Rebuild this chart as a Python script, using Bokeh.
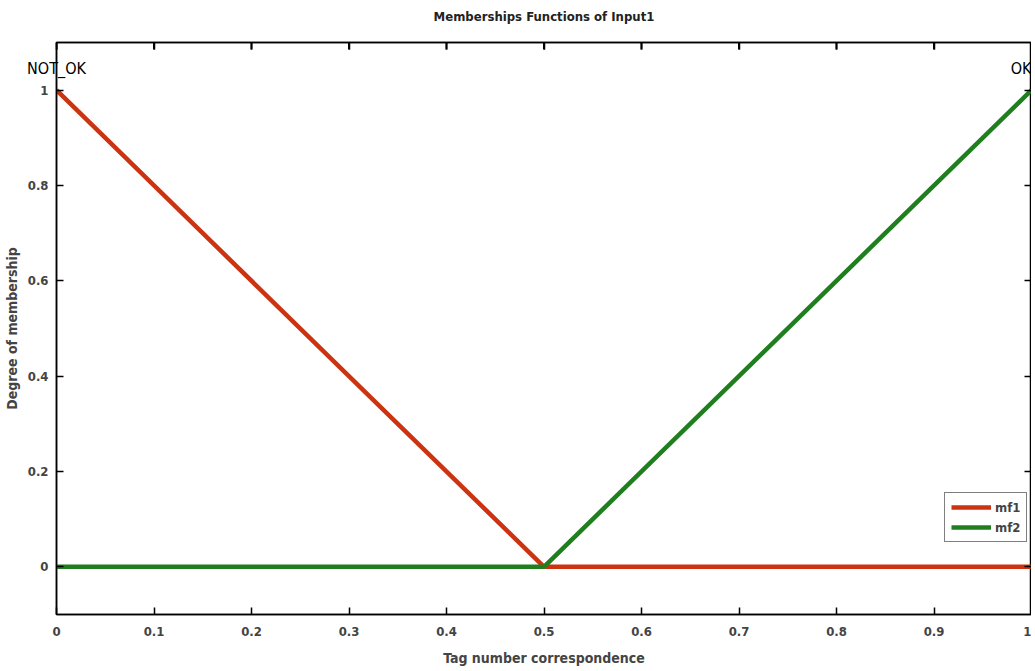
from bokeh.plotting import figure
from bokeh.models import LinearAxis, Range1d, Legend, LegendItem, FixedTicker
from bokeh.embed import file_html
from bokeh.resources import INLINE

# Data
mf1_x = [0.0, 0.5, 1.0]
mf1_y = [1.0, 0.0, 0.0]
mf2_x = [0.0, 0.5, 1.0]
mf2_y = [0.0, 0.0, 1.0]
x_ticks = [0, 0.1, 0.2, 0.3, 0.4, 0.5, 0.6, 0.7, 0.8, 0.9, 1]
y_ticks = [0, 0.2, 0.4, 0.6, 0.8, 1]
mf_labels = ["mf1", "mf2"]
top_names = ["NOT_OK", "OK"]
top_x = [0, 1]
title_text = "Memberships Functions of Input1"

FONT = "DejaVu Sans Condensed, Liberation Sans Narrow, sans-serif"
RED = "#cc3311"
GREEN = "#1f7f1f"
Y_MIN, Y_MAX = -0.1, 1.1
FRAME_H = 572
TICK_PX = 7

p = figure(width=1031, height=670, output_backend="svg", toolbar_location=None,
           x_range=Range1d(0, 1), y_range=Range1d(Y_MIN, Y_MAX),
           min_border_left=48, min_border_right=0, min_border_top=42, min_border_bottom=56)

p.grid.visible = False
p.outline_line_color = "black"
p.outline_line_width = 1.5

for ax in [p.xaxis[0], p.yaxis[0]]:
    ax.major_tick_in = TICK_PX
    ax.major_tick_out = 0
    ax.minor_tick_line_color = None
    ax.major_label_text_font = FONT
    ax.major_label_text_font_size = "13px"
    ax.major_label_text_font_style = "bold"
    ax.axis_label_text_font = FONT
    ax.axis_label_text_font_size = "14px"
    ax.axis_label_text_font_style = "bold"
    ax.axis_line_width = 1.5
    ax.major_tick_line_width = 1.5

p.xaxis[0].ticker = FixedTicker(ticks=x_ticks)
p.xaxis[0].major_label_overrides = {1: "1", 0: "0"}
p.yaxis[0].ticker = FixedTicker(ticks=y_ticks)
p.yaxis[0].major_label_overrides = {1: "1", 0: "0"}
p.xaxis[0].axis_label = "Tag number correspondence"
p.yaxis[0].axis_label = "Degree of membership"
p.xaxis[0].axis_label_standoff = 11
p.yaxis[0].axis_label_standoff = 5
p.xaxis[0].major_label_standoff = 12
p.yaxis[0].major_label_standoff = 8

# top axis: inward ticks, NOT_OK / OK names drawn inside the frame, title as its axis label
names_overrides = {t: "" for t in x_ticks}
for name, xv in zip(top_names, top_x):
    names_overrides[xv] = name
names = LinearAxis(ticker=FixedTicker(ticks=x_ticks),
                   major_label_overrides=names_overrides,
                   major_label_text_font=FONT, major_label_text_font_size="16px",
                   major_label_text_color="black",
                   major_label_standoff=-35,
                   axis_label=title_text, axis_label_standoff=32,
                   axis_label_text_font=FONT, axis_label_text_font_size="13px",
                   axis_label_text_font_style="bold", axis_label_text_color="#222222",
                   axis_line_color="black", axis_line_width=1.5,
                   major_tick_line_color="black", major_tick_line_width=1.5,
                   major_tick_in=TICK_PX, major_tick_out=0,
                   minor_tick_line_color=None, minor_tick_in=0, minor_tick_out=0)
right = LinearAxis(ticker=FixedTicker(ticks=y_ticks), major_label_text_font_size="0px",
                   major_label_standoff=0,
                   major_tick_in=TICK_PX, major_tick_out=0, minor_tick_line_color=None,
                   axis_line_width=1.5, major_tick_line_width=1.5)
p.add_layout(names, "above")
p.add_layout(right, "right")

# inward tick marks along the top edge (box style), at the x tick positions
tick_len = TICK_PX * (Y_MAX - Y_MIN) / FRAME_H
p.segment(x0=x_ticks, y0=[Y_MAX] * len(x_ticks), x1=x_ticks,
          y1=[Y_MAX - tick_len] * len(x_ticks), line_color="black", line_width=2)

r1 = p.line(mf1_x, mf1_y, line_color=RED, line_width=4.5)
r2 = p.line(mf2_x, mf2_y, line_color=GREEN, line_width=4.5)

legend = Legend(items=[LegendItem(label=mf_labels[0], renderers=[r1]),
                       LegendItem(label=mf_labels[1], renderers=[r2])],
                location=(888, 72), glyph_width=40, glyph_height=16,
                label_text_font=FONT, label_text_font_size="13px",
                label_text_font_style="bold",
                border_line_color="black", border_line_width=1.2,
                padding=6, spacing=4, margin=0, label_standoff=4,
                label_height=16)
p.add_layout(legend)

open("out.html", "w").write(file_html(p, INLINE))
